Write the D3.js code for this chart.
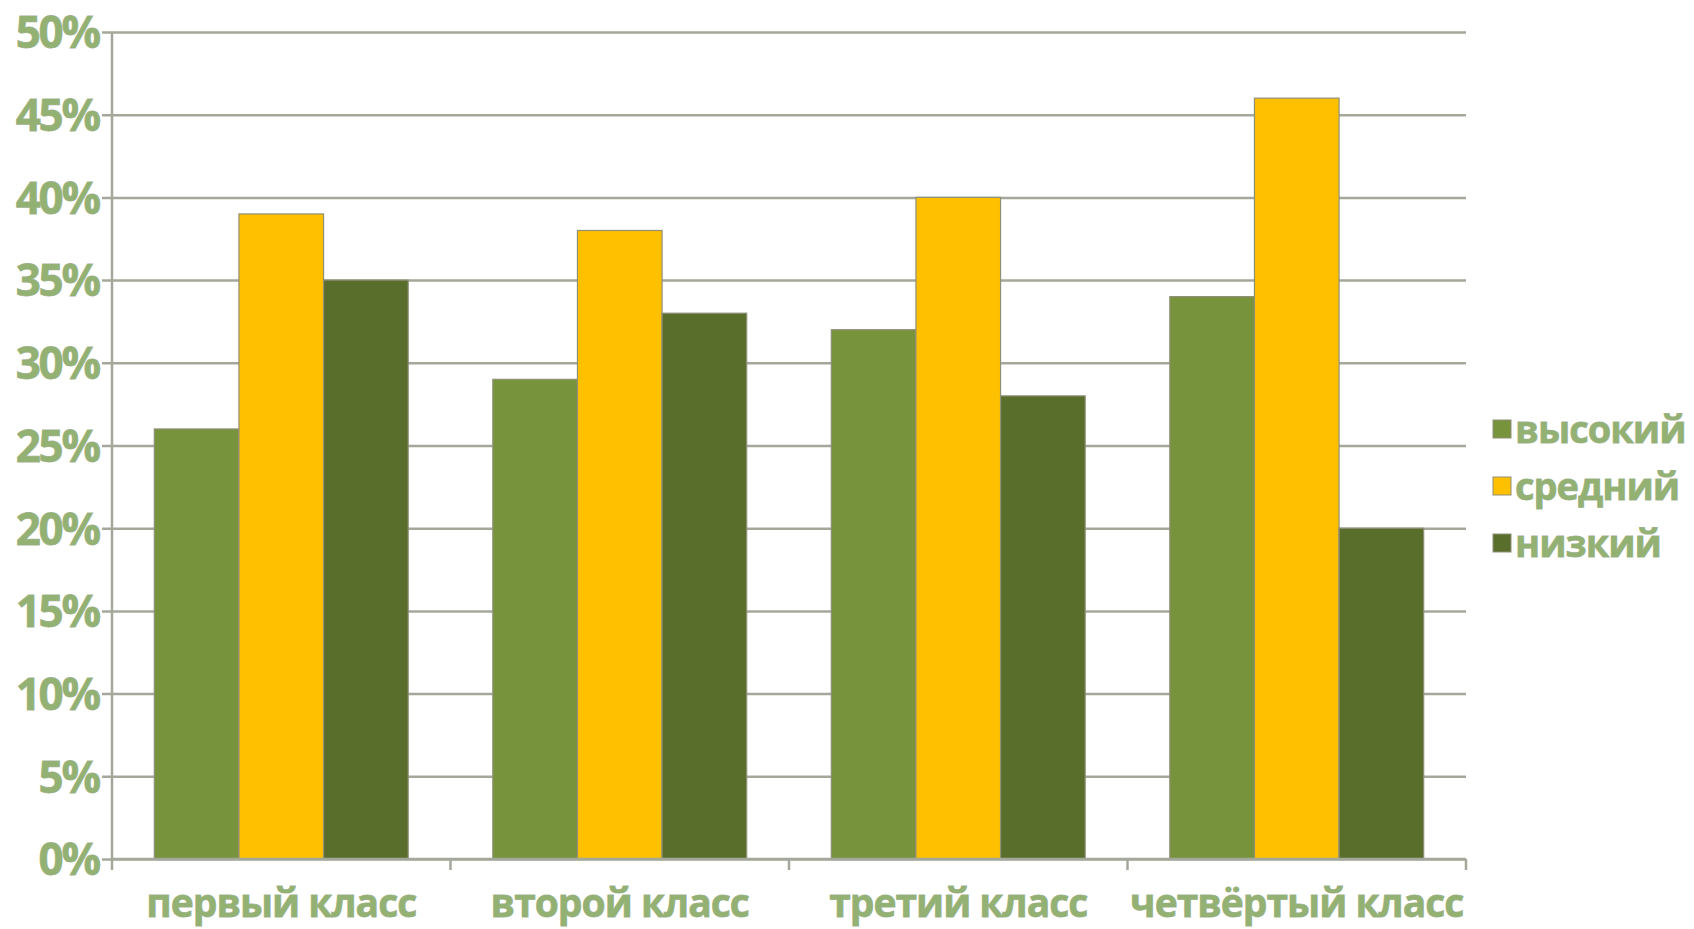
<!DOCTYPE html>
<html>
<head>
<meta charset="utf-8">
<script src="https://cdn.jsdelivr.net/npm/d3@7"></script>
<style>
  body { margin: 0; background: #fff; }
  text { font-family: "Open Sans", sans-serif; font-weight: 700; fill: #92b173; stroke: #aab59f; stroke-width: 0.8; paint-order: stroke; }
</style>
</head>
<body>
<svg id="chart"></svg>
<script>
// categories and series
var classes = ["первый класс", "второй класс", "третий класс", "четвёртый класс"];
var levels = ["высокий", "средний", "низкий"];
var high = [26, 29, 32, 34];
var middle = [39, 38, 40, 46];
var low = [35, 33, 28, 20];
var yTicks = [0, 5, 10, 15, 20, 25, 30, 35, 40, 45, 50];
var colors = ["#77933c", "#ffc000", "#5a6e2c"];

var screen = {width: 1694, height: 929};
var plot = {left: 112, right: 1466, top: 32, bottom: 859};

var svg = d3.select("#chart")
  .attr("width", screen.width)
  .attr("height", screen.height);

var rows = classes.map(function(c, i) {
  return {name: c, values: [high[i], middle[i], low[i]]};
});

var x0 = d3.scaleBand().domain(classes).range([plot.left, plot.right])
  .paddingInner(0.25).paddingOuter(0.125);
var x1 = d3.scaleBand().domain(levels).range([0, x0.bandwidth()]);
var y = d3.scaleLinear().domain([0, 50]).range([plot.bottom, plot.top]);

var gridColor = "#a3a89a";

// horizontal grid + left ticks
var yAxis = svg.append("g")
  .attr("transform", "translate(" + plot.left + ",0)")
  .call(d3.axisLeft(y).tickValues(yTicks)
    .tickSize(-(plot.right - plot.left))
    .tickFormat(function(d) { return d + "%"; }));
yAxis.select(".domain").remove();
yAxis.selectAll(".tick line").attr("stroke", gridColor).attr("stroke-width", 2.5).attr("x1", -10);
yAxis.selectAll(".tick text")
  .attr("x", -13)
  .attr("dy", "0.36em")
  .style("font-size", "44px")
  .style("letter-spacing", "-2.2px");

// bars
var groups = svg.append("g").selectAll("g")
  .data(rows)
  .enter().append("g")
  .attr("transform", function(d) { return "translate(" + x0(d.name) + ",0)"; });

groups.selectAll("rect")
  .data(function(d) { return d.values.map(function(v, i) { return {key: levels[i], value: v, i: i}; }); })
  .enter().append("rect")
  .attr("x", function(d) { return x1(d.key); })
  .attr("y", function(d) { return y(d.value); })
  .attr("width", x1.bandwidth())
  .attr("height", function(d) { return y(0) - y(d.value); })
  .style("fill", function(d) { return colors[d.i]; })
  .style("stroke", "#8f8f78")
  .style("stroke-width", 1.2);

// y axis line
svg.append("line")
  .attr("x1", plot.left).attr("x2", plot.left)
  .attr("y1", plot.top).attr("y2", plot.bottom)
  .attr("stroke", gridColor).attr("stroke-width", 2.5);

// bottom axis with ticks between categories
svg.append("line")
  .attr("x1", plot.left).attr("x2", plot.right)
  .attr("y1", plot.bottom).attr("y2", plot.bottom)
  .attr("stroke", gridColor).attr("stroke-width", 2.5);

var bounds = d3.range(classes.length + 1).map(function(i) { return plot.left + i * x0.step(); });
svg.append("g").selectAll("line")
  .data(bounds)
  .enter().append("line")
  .attr("x1", function(d) { return d; }).attr("x2", function(d) { return d; })
  .attr("y1", plot.bottom).attr("y2", plot.bottom + 11)
  .attr("stroke", gridColor).attr("stroke-width", 2.5);

svg.append("g").selectAll("text")
  .data(classes)
  .enter().append("text")
  .attr("x", function(d) { return x0(d) + x0.bandwidth() / 2; })
  .attr("y", 917)
  .attr("text-anchor", "middle")
  .style("font-size", "39px")
  .style("letter-spacing", "-1px")
  .text(function(d) { return d; });

// legend
var legend = svg.append("g").selectAll("g")
  .data(levels)
  .enter().append("g")
  .attr("transform", function(d, i) { return "translate(1493," + (429 + i * 57) + ")"; });

legend.append("rect")
  .attr("x", 0).attr("y", -9)
  .attr("width", 18).attr("height", 18)
  .style("fill", function(d, i) { return colors[i]; })
  .style("stroke", "#8f8f78").style("stroke-width", 1);

legend.append("text")
  .attr("x", 22)
  .attr("y", 14)
  .style("font-size", "38px")
  .style("letter-spacing", "-1px")
  .text(function(d) { return d; });
</script>
</body>
</html>
